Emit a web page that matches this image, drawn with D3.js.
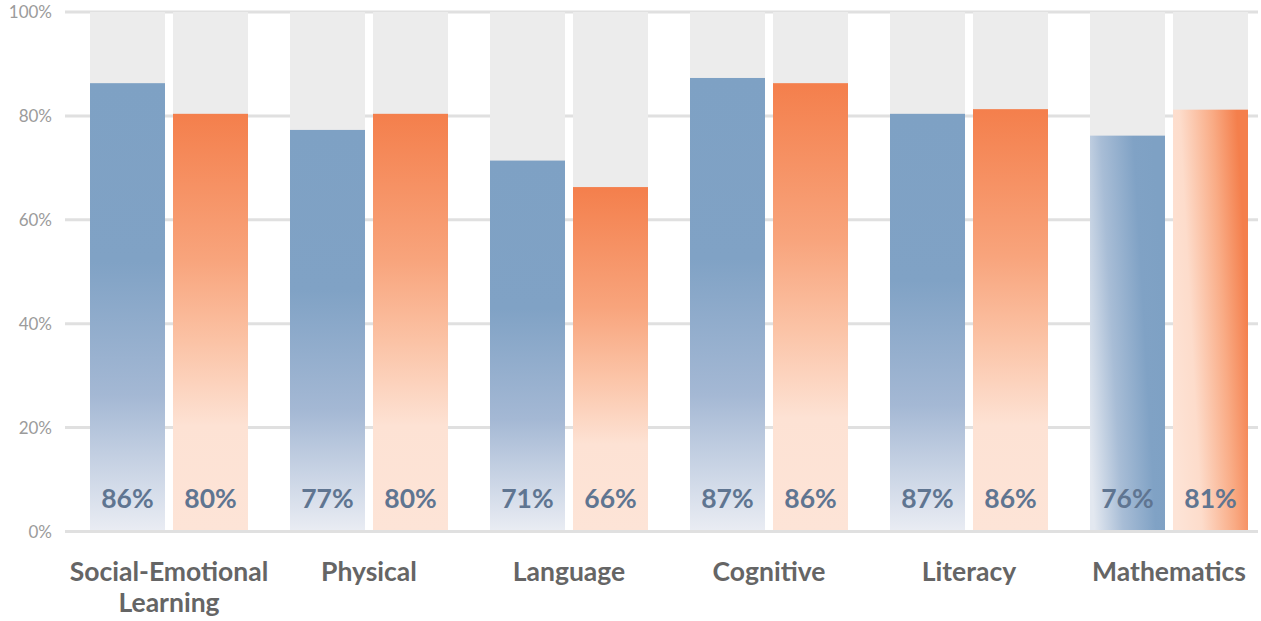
<!DOCTYPE html>
<html lang="en">
<head>
<meta charset="UTF-8">
<script src="https://d3js.org/d3.v7.min.js"></script>
<style>
  body { margin: 0; background: #fff; }
  svg { display: block; font-family: Lato, "Open Sans", sans-serif; }
</style>
</head>
<body>
<div id="chart_area"></div>
<script>
  // data
  var categories = ["Social-Emotional Learning", "Physical", "Language", "Cognitive", "Literacy", "Mathematics"];
  var categoryLines = [["Social-Emotional", "Learning"], ["Physical"], ["Language"], ["Cognitive"], ["Literacy"], ["Mathematics"]];
  var blueValues = [86.3, 77.3, 71.4, 87.3, 80.4, 76.2];
  var orangeValues = [80.4, 80.4, 66.3, 86.3, 81.3, 81.2];
  var blueLabels = ["86%", "77%", "71%", "87%", "87%", "76%"];
  var orangeLabels = ["80%", "80%", "66%", "86%", "86%", "81%"];
  var yTicks = [0, 20, 40, 60, 80, 100];

  var width = 1261, height = 621;

  var svg = d3.select("#chart_area").append("svg")
    .attr("width", width)
    .attr("height", height);

  var defs = svg.append("defs");

  function grad(id, x1, y1, x2, y2, stops) {
    var g = defs.append("linearGradient").attr("id", id)
      .attr("x1", x1).attr("y1", y1).attr("x2", x2).attr("y2", y2);
    stops.forEach(function(s) {
      g.append("stop").attr("offset", s[0]).attr("stop-color", s[1]);
    });
  }
  // vertical fades
  grad("blueV", 0, 0, 0, 1, [[0, "#7ea1c4"], [0.4, "#80a2c5"], [0.7, "#a4b8d4"], [1, "#e9ecf3"]]);
  grad("orangeV", 0, 0, 0, 1, [[0, "#f47f4c"], [0.35, "#f8a47c"], [0.55, "#fbc3a6"], [0.75, "#fde2d4"], [1, "#fde4d7"]]);
  // mathematics bars fade sideways
  grad("blueH", 0, 0.8, 1, 0.5, [[0, "#e3e8f0"], [0.35, "#a8bdd6"], [0.75, "#80a2c5"], [1, "#7ea1c4"]]);
  grad("orangeH", 0, 0.8, 1, 0.5, [[0, "#fde4d7"], [0.3, "#fddccb"], [0.7, "#f9ab85"], [1, "#f47f4c"]]);

  var y = d3.scaleLinear().domain([0, 100]).range([531.5, 12]);

  var x0 = d3.scaleBand().domain(categories).range([69, 1269])
    .paddingInner(0.21).paddingOuter(0.105);
  var x1 = d3.scaleBand().domain(["blue", "orange"]).range([0, x0.bandwidth()])
    .paddingInner(0.0964).paddingOuter(0);

  // gridlines
  svg.append("g").selectAll("line").data(yTicks).enter().append("line")
    .attr("x1", 65).attr("x2", 1258)
    .attr("y1", function(d) { return y(d); })
    .attr("y2", function(d) { return y(d); })
    .attr("stroke", "#e0e0e0")
    .attr("stroke-width", 3);

  svg.append("g").selectAll("text").data(yTicks).enter().append("text")
    .attr("x", 52)
    .attr("y", function(d) { return y(d) + 6; })
    .attr("text-anchor", "end")
    .attr("fill", "#9b9b9b")
    .style("font-size", "17px")
    .text(function(d) { return d + "%"; });

  var rows = categories.map(function(c, i) {
    return [
      { cat: c, key: "blue", value: blueValues[i], label: blueLabels[i], fill: i === 5 ? "url(#blueH)" : "url(#blueV)" },
      { cat: c, key: "orange", value: orangeValues[i], label: orangeLabels[i], fill: i === 5 ? "url(#orangeH)" : "url(#orangeV)" }
    ];
  });

  var groups = svg.append("g").selectAll("g").data(rows).enter().append("g")
    .attr("transform", function(d) { return "translate(" + x0(d[0].cat) + ",0)"; });

  var bars = groups.selectAll("g").data(function(d) { return d; }).enter().append("g");

  // grey track behind each bar
  bars.append("rect")
    .attr("x", function(d) { return x1(d.key); })
    .attr("y", y(100))
    .attr("width", x1.bandwidth())
    .attr("height", y(0) - y(100) - 1.5)
    .attr("fill", "#ececec");

  bars.append("rect")
    .attr("x", function(d) { return x1(d.key); })
    .attr("y", function(d) { return y(d.value); })
    .attr("width", x1.bandwidth())
    .attr("height", function(d) { return y(0) - y(d.value) - 1.5; })
    .attr("fill", function(d) { return d.fill; });

  bars.append("text")
    .attr("x", function(d) { return x1(d.key) + x1.bandwidth() / 2; })
    .attr("y", 508)
    .attr("text-anchor", "middle")
    .attr("fill", "#5f7591")
    .style("font-size", "26.5px")
    .style("font-weight", "bold")
    .text(function(d) { return d.label; });

  // category labels
  svg.append("g").selectAll("text").data(categories).enter().append("text")
    .attr("x", function(d) { return x0(d) + x0.bandwidth() / 2; })
    .attr("y", 581)
    .attr("text-anchor", "middle")
    .attr("fill", "#656565")
    .style("font-size", "26.5px")
    .style("font-weight", "bold")
    .each(function(d, i) {
      var t = d3.select(this);
      categoryLines[i].forEach(function(line, j) {
        t.append("tspan")
          .attr("x", x0(d) + x0.bandwidth() / 2)
          .attr("dy", j === 0 ? 0 : 31)
          .text(line);
      });
    });
</script>
</body>
</html>
